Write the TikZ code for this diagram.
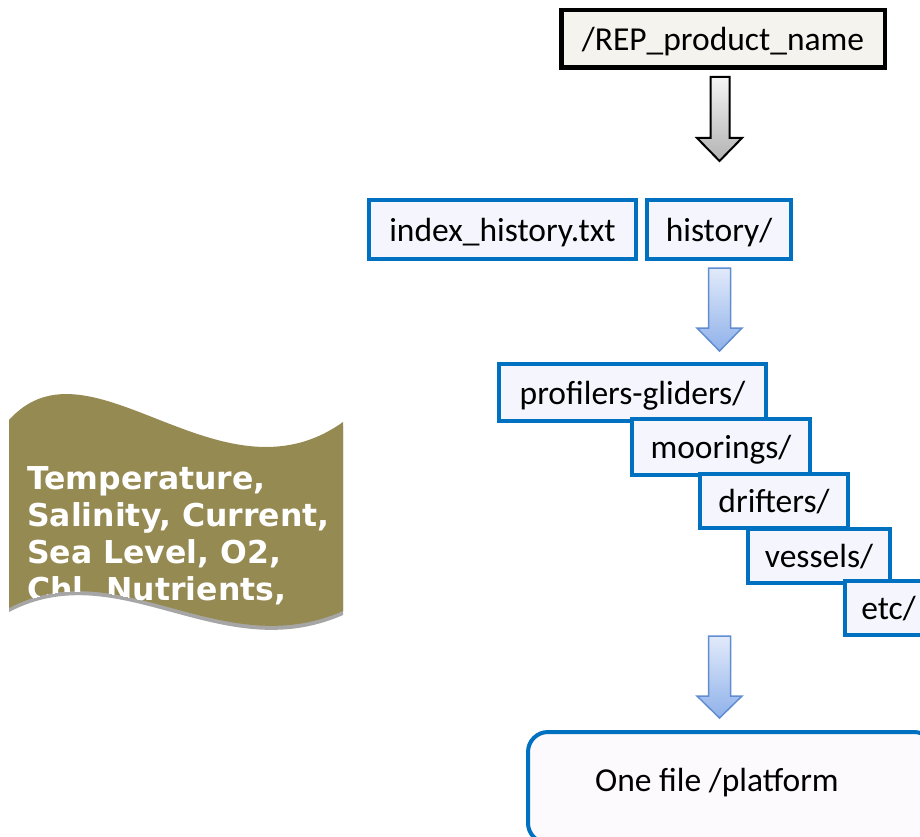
\documentclass[tikz,border=0pt]{standalone}
\usepackage{fontspec}
\setmainfont{Carlito}
\newfontfamily\bannerfont{DejaVu Sans}
\usetikzlibrary{positioning}
\definecolor{BoxBlue}{HTML}{0070C0}
\definecolor{PaleBox}{HTML}{F5F6FD}
\definecolor{PalePink}{HTML}{FDFAFE}
\definecolor{Cream}{HTML}{F5F3EE}
\definecolor{Olive}{HTML}{968A53}
\definecolor{Shadow}{HTML}{A6A6A6}
\definecolor{ArrowEdge}{HTML}{5F8DD0}
\definecolor{ArrowTop}{HTML}{E2EAFA}
\definecolor{ArrowBot}{HTML}{8FB1EA}

\begin{document}
\begin{tikzpicture}[x=1pt,y=-1pt,
dir/.style={draw=BoxBlue,fill=PaleBox,line width=4pt,minimum height=54pt,inner sep=0pt,text height=25pt,text depth=2pt,font=\fontsize{33.5}{40}\selectfont},
root/.style={dir,draw=black,fill=Cream,line width=4.5pt},
outfile/.style={dir,fill=PalePink,rounded corners=20pt,text height=14pt,text depth=6pt},
garr/.style={draw=black,line width=2pt,top color=gray!8,bottom color=gray!60},
barr/.style={draw=ArrowEdge,line width=1.5pt,top color=ArrowTop,bottom color=ArrowBot},
txt/.style={anchor=base west,align=left,text=white,inner sep=0pt,font=\bannerfont\bfseries\fontsize{31.5}{37}\selectfont}]
\useasboundingbox (0,0) rectangle (920,837);
% wavy banner
\begin{scope}[yshift=-4pt]
\fill[Shadow] (9,420) .. controls (90,330) and (220,510) .. (343,422) -- (343,611) .. controls (220,665) and (120,550) .. (9,608) -- cycle;
\end{scope}
\begin{scope}
\clip (9,420) .. controls (90,330) and (220,510) .. (343,422) -- (343,611) .. controls (220,665) and (120,550) .. (9,608) -- cycle;
\fill[Olive] (0,380) rectangle (350,640);
\node[txt] (params) at (27,600) {Temperature,\\Salinity, Current,\\Sea Level, O2,\\Chl, Nutrients,};
\end{scope}
% tree of folders
\node[root,minimum width=323.5pt,minimum height=57.5pt] (rep) at (723,39) {/REP\_product\_name};
\node[dir,minimum width=267pt,minimum height=59pt] (idx) at (502.5,229.5) {index\_history.txt};
\node[dir,minimum width=144pt,minimum height=59pt] (hist) at (719,229.5) {history/};
\node[dir,minimum width=267pt,minimum height=57pt] (prof) at (632.5,392.5) {profilers-gliders/};
\node[dir,minimum width=178pt,minimum height=56pt] (moor) at (721,447) {moorings/};
\node[dir,minimum width=148pt] (drif) at (774,501) {drifters/};
\node[dir,minimum width=142pt] (vess) at (819,556) {vessels/};
\node[dir,minimum width=87pt] (etc) at (888.5,608) {etc/};
\node[outfile,minimum width=406pt,minimum height=111pt] (plat) at (731,787.5) {One file /platform\hspace*{28pt}};
% block arrows
\draw[garr] (710.5,77) -- (729.5,77) -- (729.5,138) -- (742,138) -- (719.5,161) -- (697,138) -- (710.5,138) -- cycle;
\foreach \t/\h/\p in {268/328/351,636/696/718}
  \draw[barr] (708.5,\t) -- (730.5,\t) -- (730.5,\h) -- (742,\h) -- (719.5,\p) -- (697,\h) -- (708.5,\h) -- cycle;
\end{tikzpicture}
\end{document}
